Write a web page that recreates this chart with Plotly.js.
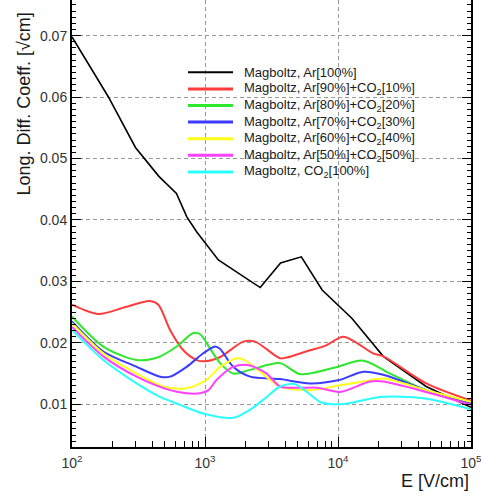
<!DOCTYPE html>
<html>
<head>
<meta charset="utf-8">
<script src="https://cdn.plot.ly/plotly-3.0.1.min.js"></script>
<style>
  html, body { margin: 0; padding: 0; background: #fff; }
  #chart { width: 481px; height: 496px; }
</style>
</head>
<body>
<div id="chart"></div>
<script>
// ---- Data ----
const seriesNames = [
  "Magboltz, Ar[100%]",
  "Magboltz, Ar[90%]+CO<sub>2</sub>[10%]",
  "Magboltz, Ar[80%]+CO<sub>2</sub>[20%]",
  "Magboltz, Ar[70%]+CO<sub>2</sub>[30%]",
  "Magboltz, Ar[60%]+CO<sub>2</sub>[40%]",
  "Magboltz, Ar[50%]+CO<sub>2</sub>[50%]",
  "Magboltz, CO<sub>2</sub>[100%]"
];

const ar100_E = [100, 187, 300, 450, 610, 730, 870, 1060, 1260, 2600, 3700, 5300, 7600, 12700, 21900, 46000, 100000];
const ar100_D = [0.0698, 0.0601, 0.0518, 0.0471, 0.0443, 0.0405, 0.0380, 0.0357, 0.0335, 0.0290, 0.0330, 0.0340, 0.0286, 0.0240, 0.0178, 0.0129, 0.0095];

const ar90_E = [100, 158, 250, 385, 446, 546, 687, 866, 1000, 1300, 1940, 2380, 3660, 4100, 6150, 8000, 11000, 18400, 22000, 46000, 100000];
const ar90_D = [0.0262, 0.0247, 0.0258, 0.0268, 0.0262, 0.0221, 0.0188, 0.0172, 0.0170, 0.0177, 0.0202, 0.0202, 0.0175, 0.0176, 0.0188, 0.0195, 0.0210, 0.0183, 0.0178, 0.0134, 0.0106];

const ar80_E = [100, 172, 306, 449, 612, 817, 920, 1090, 1300, 1630, 2180, 3660, 5200, 9200, 15500, 24600, 46000, 100000];
const ar80_D = [0.0243, 0.0194, 0.0172, 0.0177, 0.0194, 0.0216, 0.0214, 0.0191, 0.0167, 0.0150, 0.0156, 0.0167, 0.0149, 0.0159, 0.0171, 0.0150, 0.0123, 0.0100];

const ar70_E = [100, 172, 306, 460, 546, 728, 970, 1190, 1300, 1630, 2180, 3660, 6150, 10000, 15500, 21900, 46000, 100000];
const ar70_D = [0.0235, 0.0186, 0.0161, 0.0145, 0.0145, 0.0161, 0.0183, 0.0194, 0.0190, 0.0161, 0.0145, 0.0141, 0.0134, 0.0139, 0.0153, 0.0148, 0.0123, 0.0102];

const ar60_E = [100, 172, 306, 486, 728, 1030, 1300, 1730, 1940, 2510, 3660, 6150, 10350, 15500, 21900, 46000, 100000];
const ar60_D = [0.0232, 0.0183, 0.0150, 0.0129, 0.0126, 0.0140, 0.0161, 0.0175, 0.0173, 0.0156, 0.0129, 0.0123, 0.0131, 0.0137, 0.0142, 0.0123, 0.0104];

const ar50_E = [100, 172, 306, 546, 728, 916, 1060, 1225, 1630, 2100, 2910, 3660, 5190, 7000, 10350, 17400, 21900, 46000, 100000];
const ar50_D = [0.0226, 0.0178, 0.0145, 0.0123, 0.0118, 0.0118, 0.0123, 0.0140, 0.0161, 0.0164, 0.0150, 0.0129, 0.0127, 0.0127, 0.0120, 0.0137, 0.0137, 0.0120, 0.0099];

const co2_E = [100, 172, 306, 459, 649, 970, 1630, 2176, 2913, 3660, 4700, 6000, 7500, 10350, 12300, 20700, 43750, 100000];
const co2_D = [0.0221, 0.0172, 0.0134, 0.0112, 0.0099, 0.0085, 0.0078, 0.0091, 0.0112, 0.0129, 0.0133, 0.0118, 0.0103, 0.0100, 0.0102, 0.0112, 0.0110, 0.0092];

const xTickVals = [100, 1000, 10000, 100000];
const xTickText = ["10<sup>2</sup>", "10<sup>3</sup>", "10<sup>4</sup>", "10<sup>5</sup>"];

const seriesE = [ar100_E, ar90_E, ar80_E, ar70_E, ar60_E, ar50_E, co2_E];
const seriesD = [ar100_D, ar90_D, ar80_D, ar70_D, ar60_D, ar50_D, co2_D];

// ---- Styles ----
const colors = ["#000000", "#ff3b3b", "#2ee82e", "#3b3bff", "#ffff1a", "#ff40ff", "#2affff"];
const widths = [1.6, 2, 2, 2, 2, 2, 2];

// ---- Layout geometry (pixels) ----
const W = 481, H = 496;
const L = 72, R = 10, T = 0, B = 49;
const plotW = W - L - R, plotH = H - T - B;
const px = x => (x - L) / plotW;
const py = y => (H - B - y) / plotH;

// minor tick positions on the log axis (2..9 per decade)
const minorX = [];
for (let d = 0; d < xTickVals.length - 1; d++) {
  for (let k = 2; k <= 9; k++) minorX.push(xTickVals[d] * k);
}

const traces = seriesE.map((E, i) => ({
  x: E, y: seriesD[i], type: "scatter", mode: "lines",
  name: seriesNames[i], showlegend: false, cliponaxis: true,
  line: { color: colors[i], width: widths[i], shape: i === 0 ? "linear" : "spline", smoothing: 0.8 }
}));

// legend drawn as shapes + annotations
const legY0 = 72.3, legDY = 16.6;
const shapes = [], annotations = [];
seriesNames.forEach((n, i) => {
  const y = legY0 + i * legDY;
  shapes.push({ type: "line", xref: "paper", yref: "paper",
    x0: px(188), x1: px(233), y0: py(y), y1: py(y),
    line: { color: colors[i], width: i === 0 ? 2 : 3 } });
  annotations.push({ xref: "paper", yref: "paper", x: px(242), y: py(y),
    xanchor: "left", yanchor: "middle", showarrow: false, text: n,
    font: { family: "Liberation Sans, Arial, sans-serif", size: 13, color: "#1a1a1a" } });
});

annotations.push({ xref: "paper", yref: "paper", x: px(23), y: py(198),
  xanchor: "center", yanchor: "bottom", showarrow: false, textangle: -90,
  text: "Long. Diff. Coeff. [√cm]",
  font: { family: "Liberation Sans, Arial, sans-serif", size: 18, color: "#1a1a1a" } });

annotations.push({ xref: "paper", yref: "paper", x: px(471), y: py(481),
  xanchor: "right", yanchor: "middle", showarrow: false,
  text: "E [V/cm]",
  font: { family: "Liberation Sans, Arial, sans-serif", size: 18, color: "#1a1a1a" } });

const tickFont = { family: "Liberation Sans, Arial, sans-serif", size: 14, color: "#333" };

const layout = {
  width: W, height: H,
  margin: { l: L, r: R, t: T, b: B, pad: 0 },
  paper_bgcolor: "#fff", plot_bgcolor: "#fff",
  showlegend: false,
  xaxis: {
    type: "log", range: [2, 5], tickmode: "array", tickvals: xTickVals, ticktext: xTickText,
    ticklabeloverflow: "allow",
    showline: true, linecolor: "#000", linewidth: 2, mirror: false,
    ticks: "inside", ticklen: 10, tickcolor: "#000", tickwidth: 1,
    ticklabelstandoff: 2,
    minor: { tickmode: "array", tickvals: minorX, ticks: "inside", ticklen: 6, tickcolor: "#000", tickwidth: 1, showgrid: false },
    showgrid: true, gridcolor: "#999", griddash: "4px,3px", gridwidth: 1,
    tickfont: tickFont, zeroline: false
  },
  yaxis: {
    range: [0.00305, 0.0758], dtick: 0.01, tick0: 0, tickformat: ".2f",
    ticklabeloverflow: "allow",
    showline: true, linecolor: "#000", linewidth: 2, mirror: "allticks",
    ticks: "inside", ticklen: 9, tickcolor: "#000", tickwidth: 1,
    minor: { dtick: 0.001, ticks: "inside", ticklen: 4, tickcolor: "#000", showgrid: false },
    showgrid: true, gridcolor: "#999", griddash: "4px,3px", gridwidth: 1,
    tickfont: tickFont, zeroline: false
  },
  shapes: shapes,
  annotations: annotations
};

Plotly.newPlot("chart", traces, layout, { staticPlot: true, displayModeBar: false });
</script>
</body>
</html>
